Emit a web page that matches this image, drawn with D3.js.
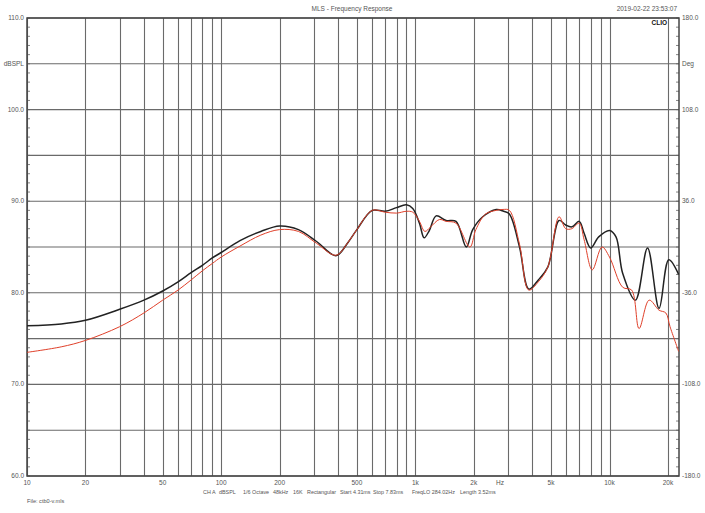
<!DOCTYPE html>
<html>
<head>
<meta charset="utf-8">
<script src="https://cdn.jsdelivr.net/npm/d3@7"></script>
<style>
  html, body { margin: 0; padding: 0; background: #fff; }
  svg { display: block; }
  text { font-family: "Liberation Sans", Arial, sans-serif; fill: #555; }
</style>
</head>
<body>
<svg id="chart" width="705" height="513"></svg>
<script>
// ---------- data ----------
const blackFreq = [10, 15, 20, 30, 40, 50, 60, 70, 80, 90, 100, 125, 160, 200, 250, 310, 390, 450, 500, 600, 700, 800, 900, 970, 1050, 1110, 1180, 1280, 1440, 1620, 1830, 1975, 2225, 2610, 2850, 3050, 3440, 3840, 4300, 4810, 5500, 5950, 6400, 6980, 7400, 8000, 8800, 10000, 10800, 11700, 13600, 15700, 18000, 20200, 22700];
const blackDb   = [76.4, 76.6, 77.0, 78.2, 79.2, 80.2, 81.2, 82.2, 83.0, 83.8, 84.4, 85.7, 86.7, 87.3, 86.9, 85.6, 84.05, 85.5, 86.9, 89.0, 88.9, 89.3, 89.6, 89.2, 87.6, 86.0, 86.8, 88.4, 87.9, 87.8, 85.0, 86.9, 88.3, 89.1, 88.9, 88.6, 85.0, 80.4, 81.4, 82.8, 87.9, 87.4, 87.2, 87.8, 86.5, 84.9, 86.1, 86.8, 86.1, 82.1, 79.2, 84.9, 78.3, 83.6, 82.0];

const redFreq = [10, 15, 20, 30, 40, 50, 60, 70, 80, 90, 100, 125, 160, 200, 250, 310, 390, 450, 500, 600, 700, 800, 900, 970, 1050, 1120, 1200, 1330, 1440, 1620, 1910, 2050, 2300, 2610, 2830, 3050, 3440, 3840, 4300, 4810, 5500, 5950, 6400, 6980, 7400, 8150, 9150, 10000, 11700, 13000, 14200, 16000, 18000, 19500, 20500, 22700];
const redDb   = [73.5, 74.1, 74.8, 76.3, 77.8, 79.2, 80.3, 81.4, 82.4, 83.2, 83.9, 85.1, 86.3, 86.9, 86.7, 85.4, 84.1, 85.5, 86.9, 89.0, 88.8, 88.7, 88.9, 88.8, 87.8, 86.7, 87.2, 88.0, 87.8, 87.6, 85.0, 86.9, 88.6, 89.0, 89.1, 89.0, 85.3, 80.3, 81.2, 82.8, 88.3, 87.0, 87.0, 87.6, 85.8, 82.5, 85.0, 83.9, 80.6, 80.3, 76.1, 79.2, 78.1, 77.8, 76.3, 73.6];

const xGridFreqs = [10,20,30,40,50,60,70,80,90,100,200,300,400,500,600,700,800,900,1000,2000,3000,4000,5000,6000,7000,8000,9000,10000,20000];
const xTickFreqs  = [10, 20, 50, 100, 200, 500, 1000, 2000, 5000, 10000, 20000];
const xTickLabels = ["10", "20", "50", "100", "200", "500", "1k", "2k", "5k", "10k", "20k"];
const yLabelVals  = [110, 105, 100, 90, 80, 70, 60];
const yLabels     = ["110.0", "dBSPL", "100.0", "90.0", "80.0", "70.0", "60.0"];
const phaseVals   = [180, 144, 108, 36, -36, -108, -180];
const phaseLabels = ["180.0", "Deg", "108.0", "36.0", "-36.0", "-108.0", "-180.0"];
const infoItems = [["CH A", 203], ["dBSPL", 219], ["1/6 Octave", 243], ["48kHz", 273], ["16K", 293], ["Rectangular", 307], ["Start 4.31ms", 340], ["Stop 7.83ms", 373], ["FreqLO 284.02Hz", 412], ["Length 3.52ms", 460]];

// ---------- layout ----------
const L = 27, R = 679, T = 18, B = 476;
const svg = d3.select("#chart");
const x = d3.scaleLog().domain([10, 22800]).range([L, R]);
const y = d3.scaleLinear().domain([60, 110]).range([B, T]);
const yP = d3.scaleLinear().domain([-180, 180]).range([B, T]);

// grid
const g = svg.append("g");
g.selectAll("line.v").data(xGridFreqs).join("line")
  .attr("x1", d => Math.round(x(d)) + 0.5).attr("x2", d => Math.round(x(d)) + 0.5)
  .attr("y1", T).attr("y2", B)
  .attr("stroke", "#6a6a6a").attr("stroke-width", 1.1);
g.selectAll("line.h").data(d3.range(60, 111, 5)).join("line")
  .attr("x1", L).attr("x2", R)
  .attr("y1", d => y(d)).attr("y2", d => y(d))
  .attr("stroke", "#6a6a6a").attr("stroke-width", 1.1);

// minor ticks (left & right inside)
const minor = d3.range(60, 111, 1);
g.selectAll("line.tl").data(minor).join("line")
  .attr("x1", L).attr("x2", L + 3).attr("y1", d => y(d)).attr("y2", d => y(d))
  .attr("stroke", "#666").attr("stroke-width", 0.8);
g.selectAll("line.tr").data(minor).join("line")
  .attr("x1", R - 3).attr("x2", R).attr("y1", d => y(d)).attr("y2", d => y(d))
  .attr("stroke", "#666").attr("stroke-width", 0.8);

// border
svg.append("rect").attr("x", L).attr("y", T).attr("width", R - L).attr("height", B - T)
  .attr("fill", "none").attr("stroke", "#444").attr("stroke-width", 1.5);

// curves
const line = d3.line().x(d => x(d[0])).y(d => y(d[1])).curve(d3.curveCatmullRom.alpha(0.5));
svg.append("path").datum(d3.zip(blackFreq, blackDb)).attr("d", line)
  .attr("fill", "none").attr("stroke", "#222").attr("stroke-width", 1.5);
svg.append("path").datum(d3.zip(redFreq, redDb)).attr("d", line)
  .attr("fill", "none").attr("stroke", "#e0402a").attr("stroke-width", 1);

// left labels
svg.selectAll("text.yl").data(yLabelVals).join("text")
  .attr("x", L - 3).attr("y", d => y(d) + 2)
  .attr("text-anchor", "end").attr("font-size", 6.5)
  .text((d, i) => yLabels[i]);
// right labels
svg.selectAll("text.yr").data(phaseVals).join("text")
  .attr("x", R + 3).attr("y", d => yP(d) + 2)
  .attr("text-anchor", "start").attr("font-size", 6.5)
  .text((d, i) => phaseLabels[i]);
// x labels
svg.selectAll("text.xl").data(xTickFreqs).join("text")
  .attr("x", d => x(d)).attr("y", B + 9)
  .attr("text-anchor", "middle").attr("font-size", 6.5)
  .text((d, i) => xTickLabels[i]);
svg.append("text").attr("x", x(2730)).attr("y", B + 9)
  .attr("text-anchor", "middle").attr("font-size", 6.5).text("Hz");

// info line
svg.selectAll("text.info").data(infoItems).join("text")
  .attr("x", d => d[1]).attr("y", B + 18)
  .attr("font-size", 5.4).text(d => d[0]);

svg.append("text").attr("x", L).attr("y", 503).attr("font-size", 5.6).text("File: ctb0-v.mls");

// title
svg.append("text").attr("x", 352).attr("y", 11).attr("text-anchor", "middle")
  .attr("font-size", 6.5).text("MLS - Frequency Response");
svg.append("text").attr("x", 677).attr("y", 11).attr("text-anchor", "end")
  .attr("font-size", 6.5).text("2019-02-22 23:53:07");
svg.append("text").attr("x", 667).attr("y", 25).attr("text-anchor", "end")
  .attr("font-size", 6.5).attr("font-weight", "bold").style("fill", "#111").text("CLIO");
</script>
</body>
</html>
